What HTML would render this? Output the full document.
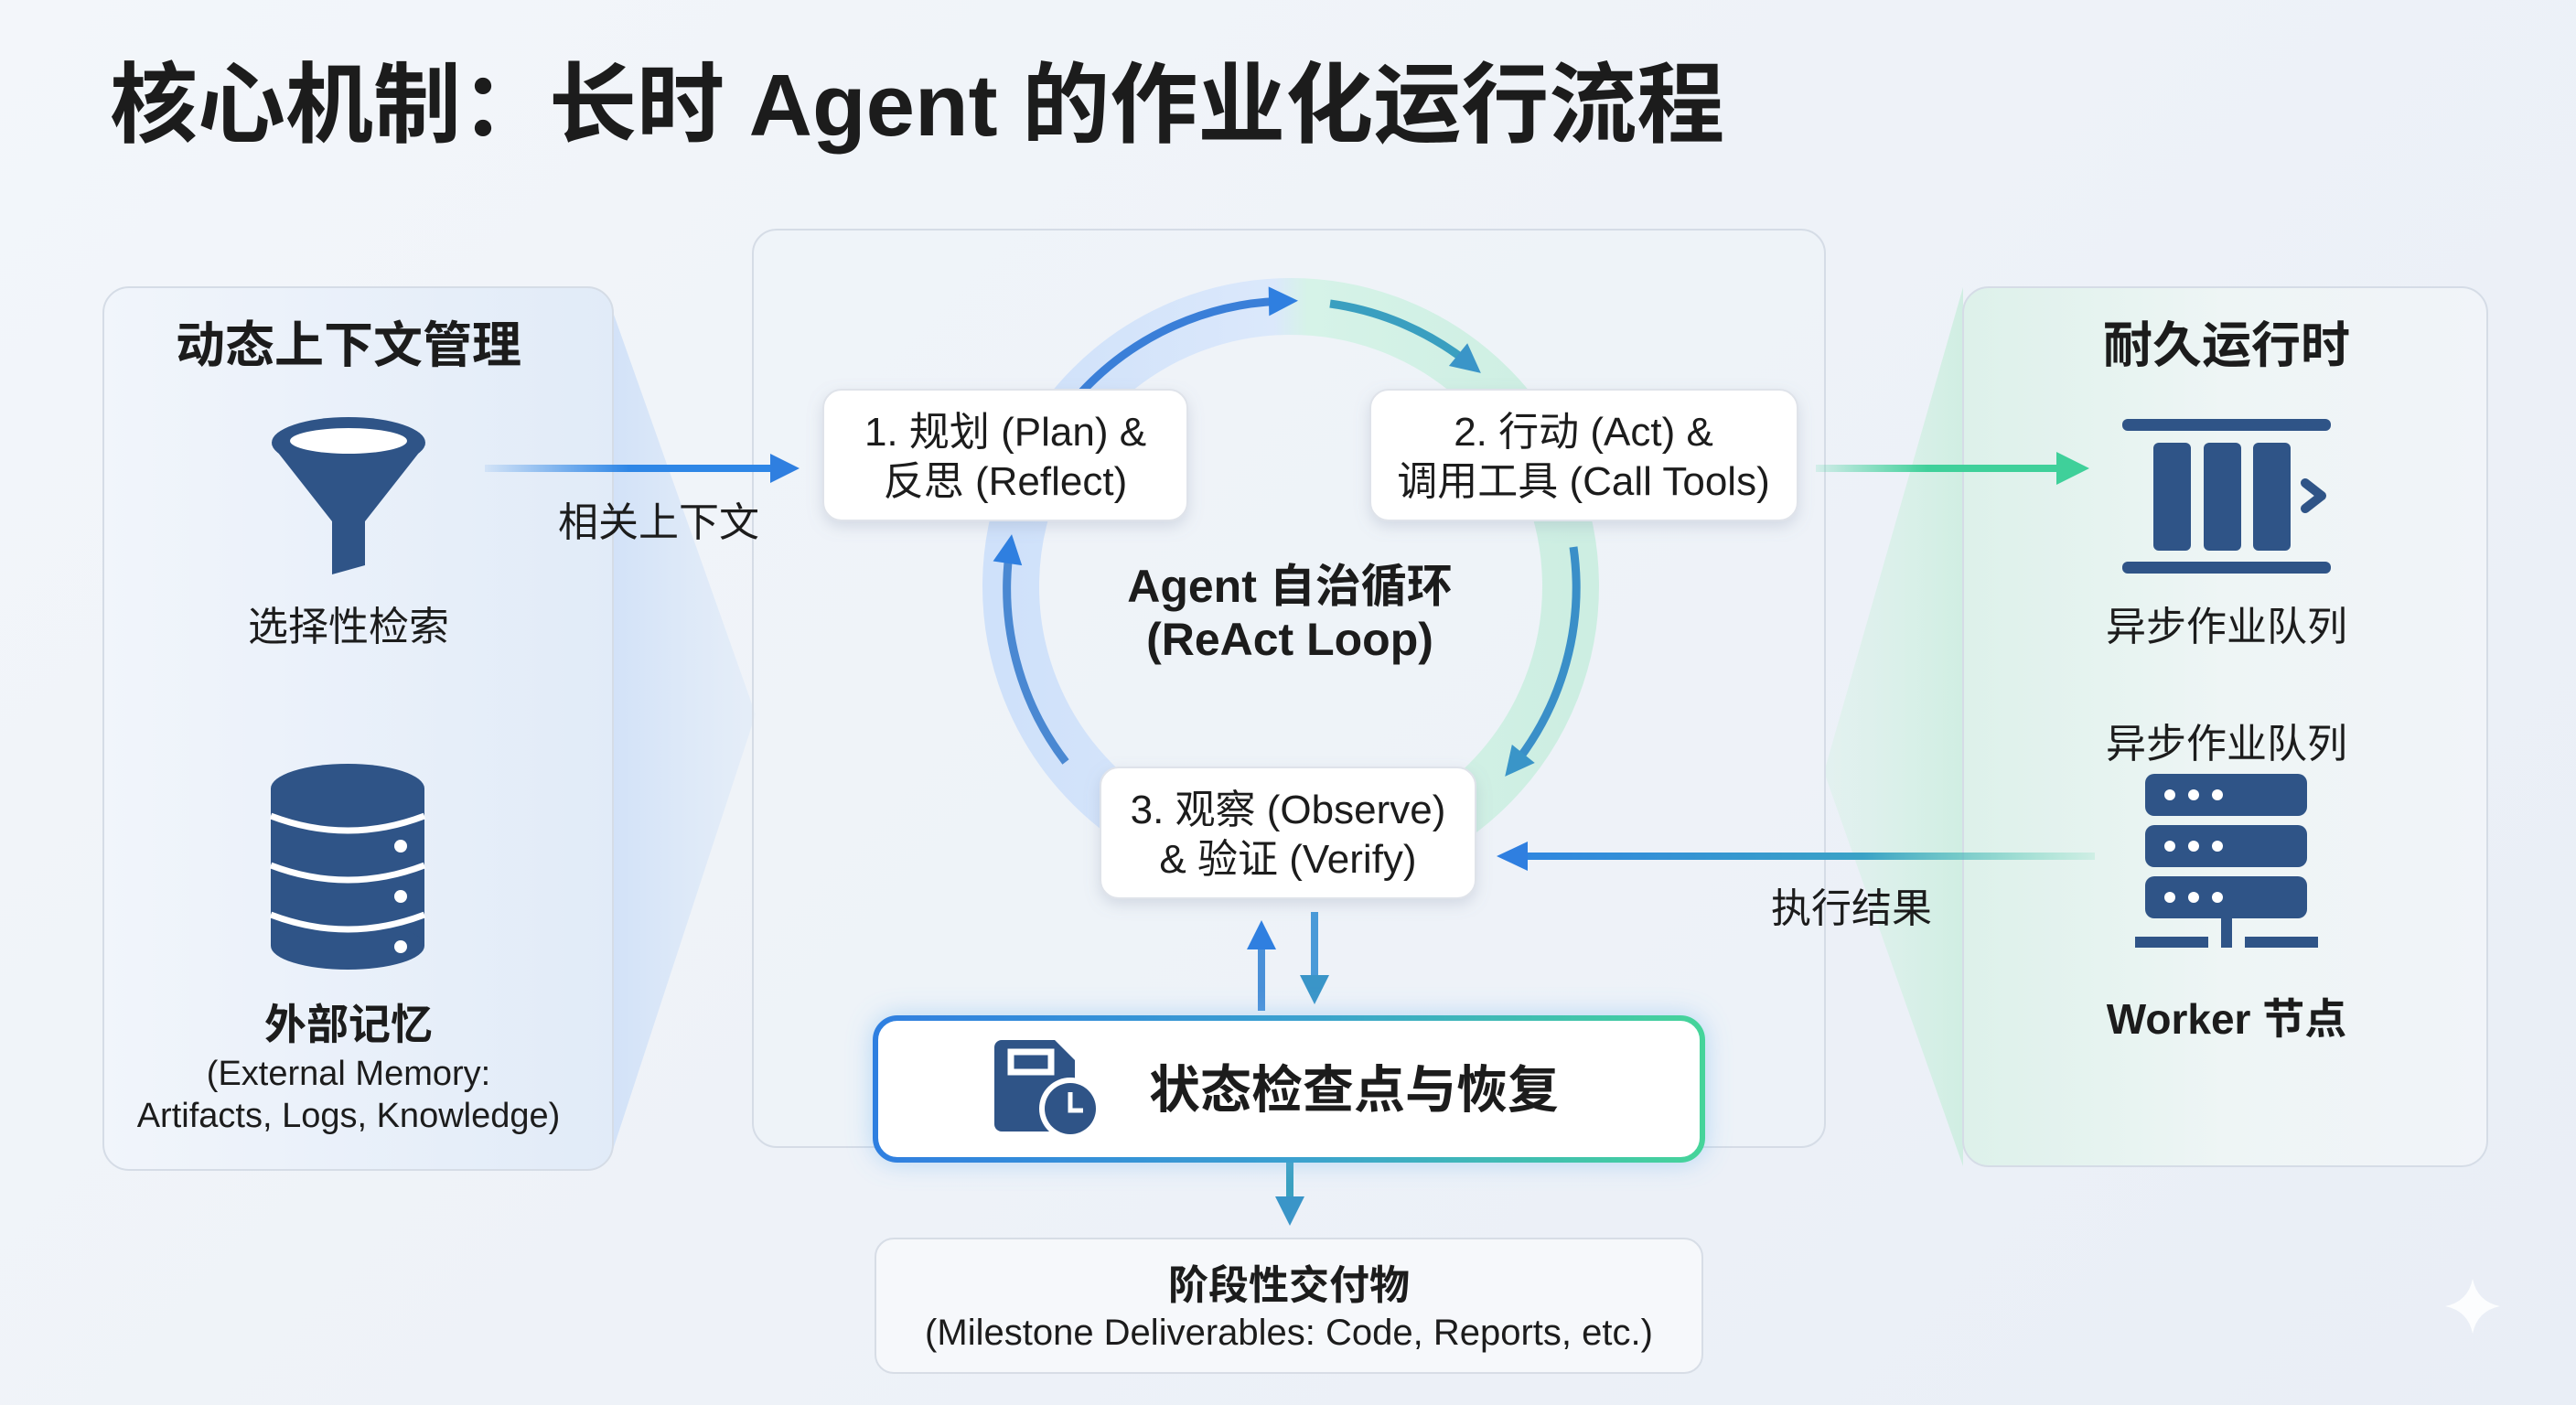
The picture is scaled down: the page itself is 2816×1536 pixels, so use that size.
<!DOCTYPE html>
<html><head><meta charset="utf-8"><style>
html,body{margin:0;padding:0;}
body{width:2816px;height:1536px;overflow:hidden;background:linear-gradient(135deg,#f3f6fa,#e9eef6);}
svg{display:block;}
text{font-family:"Liberation Sans","Noto Sans CJK SC",sans-serif;fill:#1c1c1c;}
.b{font-weight:bold;}
</style></head><body>
<svg width="2816" height="1536" viewBox="0 0 2816 1536" xmlns="http://www.w3.org/2000/svg">
<defs>
  <linearGradient id="lw" x1="0" x2="1" y1="0" y2="0"><stop offset="0" stop-color="#cfe0f8" stop-opacity="0.9"/><stop offset="1" stop-color="#dbe8f8" stop-opacity="0.5"/></linearGradient>
  <linearGradient id="rw" x1="1" x2="0" y1="0" y2="0"><stop offset="0" stop-color="#cdeee0" stop-opacity="0.9"/><stop offset="1" stop-color="#d9f1e8" stop-opacity="0.5"/></linearGradient>
  <linearGradient id="lp" x1="0" x2="1"><stop offset="0" stop-color="#f1f5fb"/><stop offset="1" stop-color="#e1ebf8"/></linearGradient>
  <linearGradient id="rp" x1="0" x2="1"><stop offset="0" stop-color="#ddf1ea"/><stop offset="0.5" stop-color="#eef5f5"/><stop offset="1" stop-color="#f1f4f9"/></linearGradient>
  <linearGradient id="ring" x1="0" x2="1"><stop offset="0" stop-color="#cfe1fa"/><stop offset="0.47" stop-color="#dbe8fb"/><stop offset="0.53" stop-color="#d6f3e8"/><stop offset="1" stop-color="#cdeee2"/></linearGradient>
  <linearGradient id="bg2" x1="0" x2="1"><stop offset="0" stop-color="#2f7fe0"/><stop offset="0.5" stop-color="#3aa0d0"/><stop offset="1" stop-color="#45d49a"/></linearGradient>
  <linearGradient id="ga" gradientUnits="userSpaceOnUse" x1="1985" y1="0" x2="2290" y2="0"><stop offset="0" stop-color="#3fd09a" stop-opacity="0.15"/><stop offset="0.4" stop-color="#3fd09a"/><stop offset="1" stop-color="#3fd09a"/></linearGradient>
  <linearGradient id="ba" gradientUnits="userSpaceOnUse" x1="530" y1="0" x2="880" y2="0"><stop offset="0" stop-color="#2e86e6" stop-opacity="0.1"/><stop offset="0.45" stop-color="#2e86e6"/><stop offset="1" stop-color="#2e86e6"/></linearGradient>
  <linearGradient id="ra" gradientUnits="userSpaceOnUse" x1="1656" y1="0" x2="2290" y2="0"><stop offset="0" stop-color="#2f86e0"/><stop offset="0.6" stop-color="#3aa2c6"/><stop offset="1" stop-color="#4fd1a8" stop-opacity="0.15"/></linearGradient>
  <marker id="mb" markerUnits="userSpaceOnUse" markerWidth="40" markerHeight="40" refX="20" refY="20" orient="auto"><path d="M2,4 L34,20 L2,36 Z" fill="#2f7fe0"/></marker>
  <marker id="mt" markerUnits="userSpaceOnUse" markerWidth="40" markerHeight="40" refX="20" refY="20" orient="auto"><path d="M2,4 L34,20 L2,36 Z" fill="#3a95c8"/></marker>
  <marker id="mg" markerUnits="userSpaceOnUse" markerWidth="44" markerHeight="44" refX="22" refY="22" orient="auto"><path d="M2,4 L38,22 L2,40 Z" fill="#3fd09a"/></marker>
  <filter id="sh" x="-20%" y="-30%" width="140%" height="170%"><feDropShadow dx="0" dy="6" stdDeviation="8" flood-color="#7a8aa5" flood-opacity="0.25"/></filter>
  <filter id="glow" x="-10%" y="-40%" width="120%" height="180%"><feDropShadow dx="0" dy="0" stdDeviation="14" flood-color="#6fb3f0" flood-opacity="0.45"/></filter>
</defs>

<text x="120" y="148" class="b" font-size="96">核心机制：长时 Agent 的作业化运行流程</text>

<polygon points="670,341 670,1257 826,781" fill="url(#lw)"/>
<polygon points="2146,314 2146,1275 1994,844" fill="url(#rw)"/>

<rect x="113" y="314" width="557" height="965" rx="28" fill="url(#lp)" stroke="#d5dce6" stroke-width="2"/>
<rect x="823" y="251" width="1172" height="1003" rx="26" fill="#eff3f9" fill-opacity="0.6" stroke="#d5dce6" stroke-width="2"/>
<rect x="2146" y="314" width="573" height="961" rx="28" fill="url(#rp)" stroke="#d5dce6" stroke-width="2"/>

<circle cx="1411" cy="641" r="306" fill="none" stroke="url(#ring)" stroke-width="62"/>
<path d="M1183,428 A312,312 0 0 1 1405,329" fill="none" stroke="#3a7fd8" stroke-width="9" marker-end="url(#mb)"/>
<path d="M1454,332 A312,312 0 0 1 1608,399" fill="none" stroke="#3a9fc0" stroke-width="9" marker-end="url(#mt)"/>
<path d="M1720,598 A312,312 0 0 1 1654,838" fill="none" stroke="#3a8fc8" stroke-width="9" marker-end="url(#mt)"/>
<path d="M1165,833 A312,312 0 0 1 1104,598" fill="none" stroke="#4a88d2" stroke-width="9" marker-end="url(#mb)"/>

<text x="1410" y="658" text-anchor="middle" class="b" font-size="50">Agent 自治循环</text>
<text x="1410" y="716" text-anchor="middle" class="b" font-size="50">(ReAct Loop)</text>

<rect x="900" y="426" width="398" height="143" rx="20" fill="#fff" stroke="#dfe3ea" stroke-width="2" filter="url(#sh)"/>
<text x="1099" y="487" text-anchor="middle" font-size="44">1. 规划 (Plan) &amp;</text>
<text x="1099" y="541" text-anchor="middle" font-size="44">反思 (Reflect)</text>
<rect x="1498" y="426" width="467" height="143" rx="20" fill="#fff" stroke="#dfe3ea" stroke-width="2" filter="url(#sh)"/>
<text x="1731" y="487" text-anchor="middle" font-size="44">2. 行动 (Act) &amp;</text>
<text x="1731" y="541" text-anchor="middle" font-size="44">调用工具 (Call Tools)</text>
<rect x="1203" y="839" width="410" height="143" rx="20" fill="#fff" stroke="#dfe3ea" stroke-width="2" filter="url(#sh)"/>
<text x="1408" y="900" text-anchor="middle" font-size="44">3. 观察 (Observe)</text>
<text x="1408" y="954" text-anchor="middle" font-size="44">&amp; 验证 (Verify)</text>

<line x1="530" y1="512" x2="860" y2="512" stroke="url(#ba)" stroke-width="8" marker-end="url(#mb)"/>
<text x="720" y="586" text-anchor="middle" font-size="44">相关上下文</text>
<line x1="1985" y1="512" x2="2268" y2="512" stroke="url(#ga)" stroke-width="8" marker-end="url(#mg)"/>
<line x1="2290" y1="936" x2="1656" y2="936" stroke="url(#ra)" stroke-width="8"/>
<path d="M1636,936 L1670,920 L1670,952 Z" fill="#2f7fe0"/>
<text x="2024" y="1008" text-anchor="middle" font-size="44">执行结果</text>
<line x1="1379" y1="1105" x2="1379" y2="1020" stroke="#4a90d8" stroke-width="8" marker-end="url(#mb)"/>
<line x1="1437" y1="997" x2="1437" y2="1084" stroke="#4a9ad8" stroke-width="8" marker-end="url(#mt)"/>
<line x1="1410" y1="1268" x2="1410" y2="1326" stroke="#3aa0c0" stroke-width="8" marker-end="url(#mt)"/>

<rect x="957" y="1113" width="904" height="155" rx="24" fill="#fff" stroke="url(#bg2)" stroke-width="6" filter="url(#glow)"/>
<path d="M1087,1145 a8,8 0 0 1 8,-8 h58 l22,22 v70 a8,8 0 0 1 -8,8 h-72 a8,8 0 0 1 -8,-8 Z" fill="#2f5487"/>
<rect x="1105" y="1150" width="44" height="22" fill="none" stroke="#fff" stroke-width="7"/>
<circle cx="1170" cy="1212" r="34" fill="#fff"/>
<circle cx="1170" cy="1212" r="28" fill="#2f5487"/>
<path d="M1170,1194 V1214 H1184" fill="none" stroke="#fff" stroke-width="5"/>
<text x="1480" y="1211" text-anchor="middle" class="b" font-size="56">状态检查点与恢复</text>

<rect x="957" y="1354" width="904" height="147" rx="20" fill="#f6f8fb" stroke="#d7dde6" stroke-width="2"/>
<text x="1409" y="1420" text-anchor="middle" class="b" font-size="44">阶段性交付物</text>
<text x="1409" y="1470" text-anchor="middle" font-size="40">(Milestone Deliverables: Code, Reports, etc.)</text>

<text x="381" y="396" text-anchor="middle" class="b" font-size="54">动态上下文管理</text>
<g fill="#2f5487">
  <ellipse cx="381" cy="484" rx="84" ry="28"/>
  <path d="M297,486 L363,570 L363,628 L399,618 L399,570 L465,486 Z"/>
</g>
<ellipse cx="381" cy="482" rx="64" ry="14" fill="#fff"/>
<text x="381" y="700" text-anchor="middle" font-size="44">选择性检索</text>
<g fill="#2f5487">
  <ellipse cx="380" cy="862" rx="84" ry="27"/>
  <rect x="296" y="862" width="168" height="172"/>
  <ellipse cx="380" cy="1034" rx="84" ry="26"/>
</g>
<g fill="none" stroke="#fff" stroke-width="7">
  <path d="M296,892 Q380,924 464,892"/>
  <path d="M296,946 Q380,978 464,946"/>
  <path d="M296,1000 Q380,1032 464,1000"/>
</g>
<g fill="#fff"><circle cx="438" cy="925" r="7"/><circle cx="438" cy="980" r="7"/><circle cx="438" cy="1035" r="7"/></g>
<text x="381" y="1136" text-anchor="middle" class="b" font-size="46">外部记忆</text>
<text x="381" y="1186" text-anchor="middle" font-size="38">(External Memory:</text>
<text x="381" y="1232" text-anchor="middle" font-size="38">Artifacts, Logs, Knowledge)</text>

<text x="2434" y="396" text-anchor="middle" class="b" font-size="54">耐久运行时</text>
<g fill="#2f5487">
  <rect x="2320" y="458" width="228" height="13" rx="6"/>
  <rect x="2320" y="614" width="228" height="13" rx="6"/>
  <rect x="2354" y="484" width="41" height="118" rx="6"/>
  <rect x="2409" y="484" width="41" height="118" rx="6"/>
  <rect x="2463" y="484" width="41" height="118" rx="6"/>
</g>
<path d="M2520,528 L2538,542 L2520,556" fill="none" stroke="#2f5487" stroke-width="10" stroke-linecap="round" stroke-linejoin="round"/>
<text x="2434" y="700" text-anchor="middle" font-size="44">异步作业队列</text>
<text x="2434" y="828" text-anchor="middle" font-size="44">异步作业队列</text>
<g fill="#2f5487">
  <rect x="2345" y="846" width="177" height="46" rx="10"/>
  <rect x="2345" y="902" width="177" height="46" rx="10"/>
  <rect x="2345" y="958" width="177" height="46" rx="10"/>
  <rect x="2428" y="1004" width="12" height="24"/>
  <rect x="2334" y="1024" width="80" height="12"/>
  <rect x="2428" y="1024" width="12" height="12"/>
  <rect x="2454" y="1024" width="80" height="12"/>
</g>
<g fill="#fff">
  <circle cx="2372" cy="869" r="6"/><circle cx="2398" cy="869" r="6"/><circle cx="2424" cy="869" r="6"/>
  <circle cx="2372" cy="925" r="6"/><circle cx="2398" cy="925" r="6"/><circle cx="2424" cy="925" r="6"/>
  <circle cx="2372" cy="981" r="6"/><circle cx="2398" cy="981" r="6"/><circle cx="2424" cy="981" r="6"/>
</g>
<text x="2434" y="1130" text-anchor="middle" class="b" font-size="46">Worker 节点</text>

<path d="M2703,1398 Q2708,1423 2733,1428 Q2708,1433 2703,1458 Q2698,1433 2673,1428 Q2698,1423 2703,1398 Z" fill="#ffffff" opacity="0.85"/>
</svg>
</body></html>
